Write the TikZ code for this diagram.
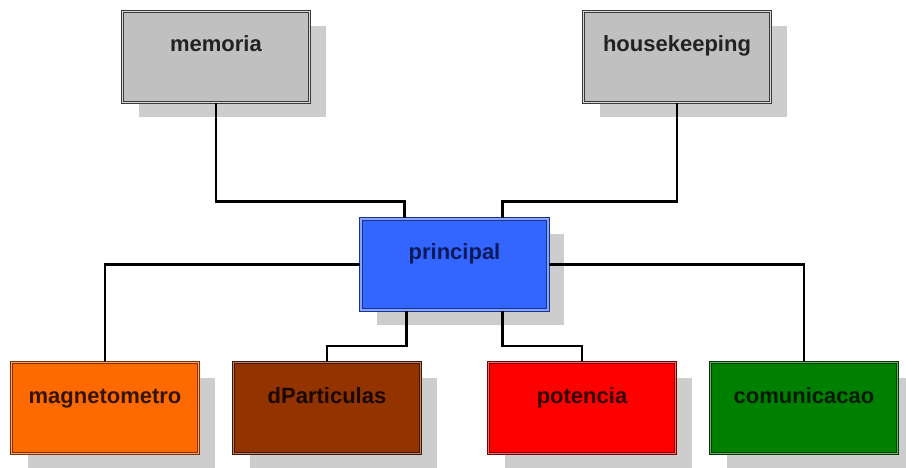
\documentclass[tikz,border=0pt]{standalone}
\usepackage{fontspec}
\setmainfont{Liberation Sans}
\definecolor{shade}{HTML}{CDCDCD}
\definecolor{grayfill}{HTML}{C0C0C0}
\definecolor{graydark}{HTML}{3A3A3A}
\definecolor{graytext}{HTML}{222222}
\definecolor{bluefill}{HTML}{3366FF}
\definecolor{bluedark}{HTML}{1A338C}
\definecolor{bluetext}{HTML}{0C1A5A}
\definecolor{orangefill}{HTML}{FF6A00}
\definecolor{orangedark}{HTML}{7A3000}
\definecolor{orangetext}{HTML}{331400}
\definecolor{brownfill}{HTML}{923300}
\definecolor{browndark}{HTML}{401600}
\definecolor{browntext}{HTML}{1A0800}
\definecolor{redfill}{HTML}{FF0000}
\definecolor{reddark}{HTML}{7A0000}
\definecolor{redtext}{HTML}{330000}
\definecolor{greenfill}{HTML}{008000}
\definecolor{greendark}{HTML}{003A00}
\definecolor{greentext}{HTML}{001A00}
\begin{document}
\begin{tikzpicture}[x=1pt,y=-1pt,
  box/.style={rectangle, minimum width=187pt, inner sep=0pt,
    text height=40.5pt, text depth=50.5pt, line width=1.2pt,
    double distance=1.1pt,
    font=\bfseries\fontsize{22}{26}\selectfont,
    preaction={fill=shade, transform canvas={xshift=16pt,yshift=-15pt}}},
  graybox/.style={box, draw=graydark, double=grayfill!60!white, fill=grayfill, text=graytext},
  bluebox/.style={box, draw=bluedark, double=bluefill!60!white, fill=bluefill, text=bluetext},
  orangebox/.style={box, draw=orangedark, double=orangefill!60!white, fill=orangefill, text=orangetext},
  brownbox/.style={box, draw=browndark, double=brownfill!60!white, fill=brownfill, text=browntext},
  redbox/.style={box, draw=reddark, double=redfill!60!white, fill=redfill, text=redtext},
  greenbox/.style={box, draw=greendark, double=greenfill!60!white, fill=greenfill, text=greentext},
  conn/.style={draw=black, line width=2.6pt}]
\useasboundingbox (0,0) rectangle (906,468);
\fill[white] (0,0) rectangle (906,468);

\node[graybox] (memoria) at (216,57) {memoria};
\node[graybox] (housekeeping) at (677,57) {housekeeping};
\node[bluebox] (principal) at (454.5,264.5) {principal};
\node[orangebox] (magnetometro) at (105,408) {magnetometro};
\node[brownbox] (dParticulas) at (327,408) {dParticulas};
\node[redbox] (potencia) at (582,408) {potencia};
\node[greenbox] (comunicacao) at (804,408) {comunicacao};

\draw[conn] (memoria.south) |- ([xshift=-50pt,yshift=17pt]principal.north) -- ([xshift=-50pt]principal.north);
\draw[conn] (housekeeping.south) |- ([xshift=48pt,yshift=17pt]principal.north) -- ([xshift=48pt]principal.north);
\draw[conn] (principal.west) -| (magnetometro.north);
\draw[conn] (principal.east) -| (comunicacao.north);
\draw[conn] ([xshift=-48pt]principal.south) |- ([yshift=16pt]dParticulas.north) -- (dParticulas.north);
\draw[conn] ([xshift=48pt]principal.south) |- ([yshift=16pt]potencia.north) -- (potencia.north);
\end{tikzpicture}
\end{document}
